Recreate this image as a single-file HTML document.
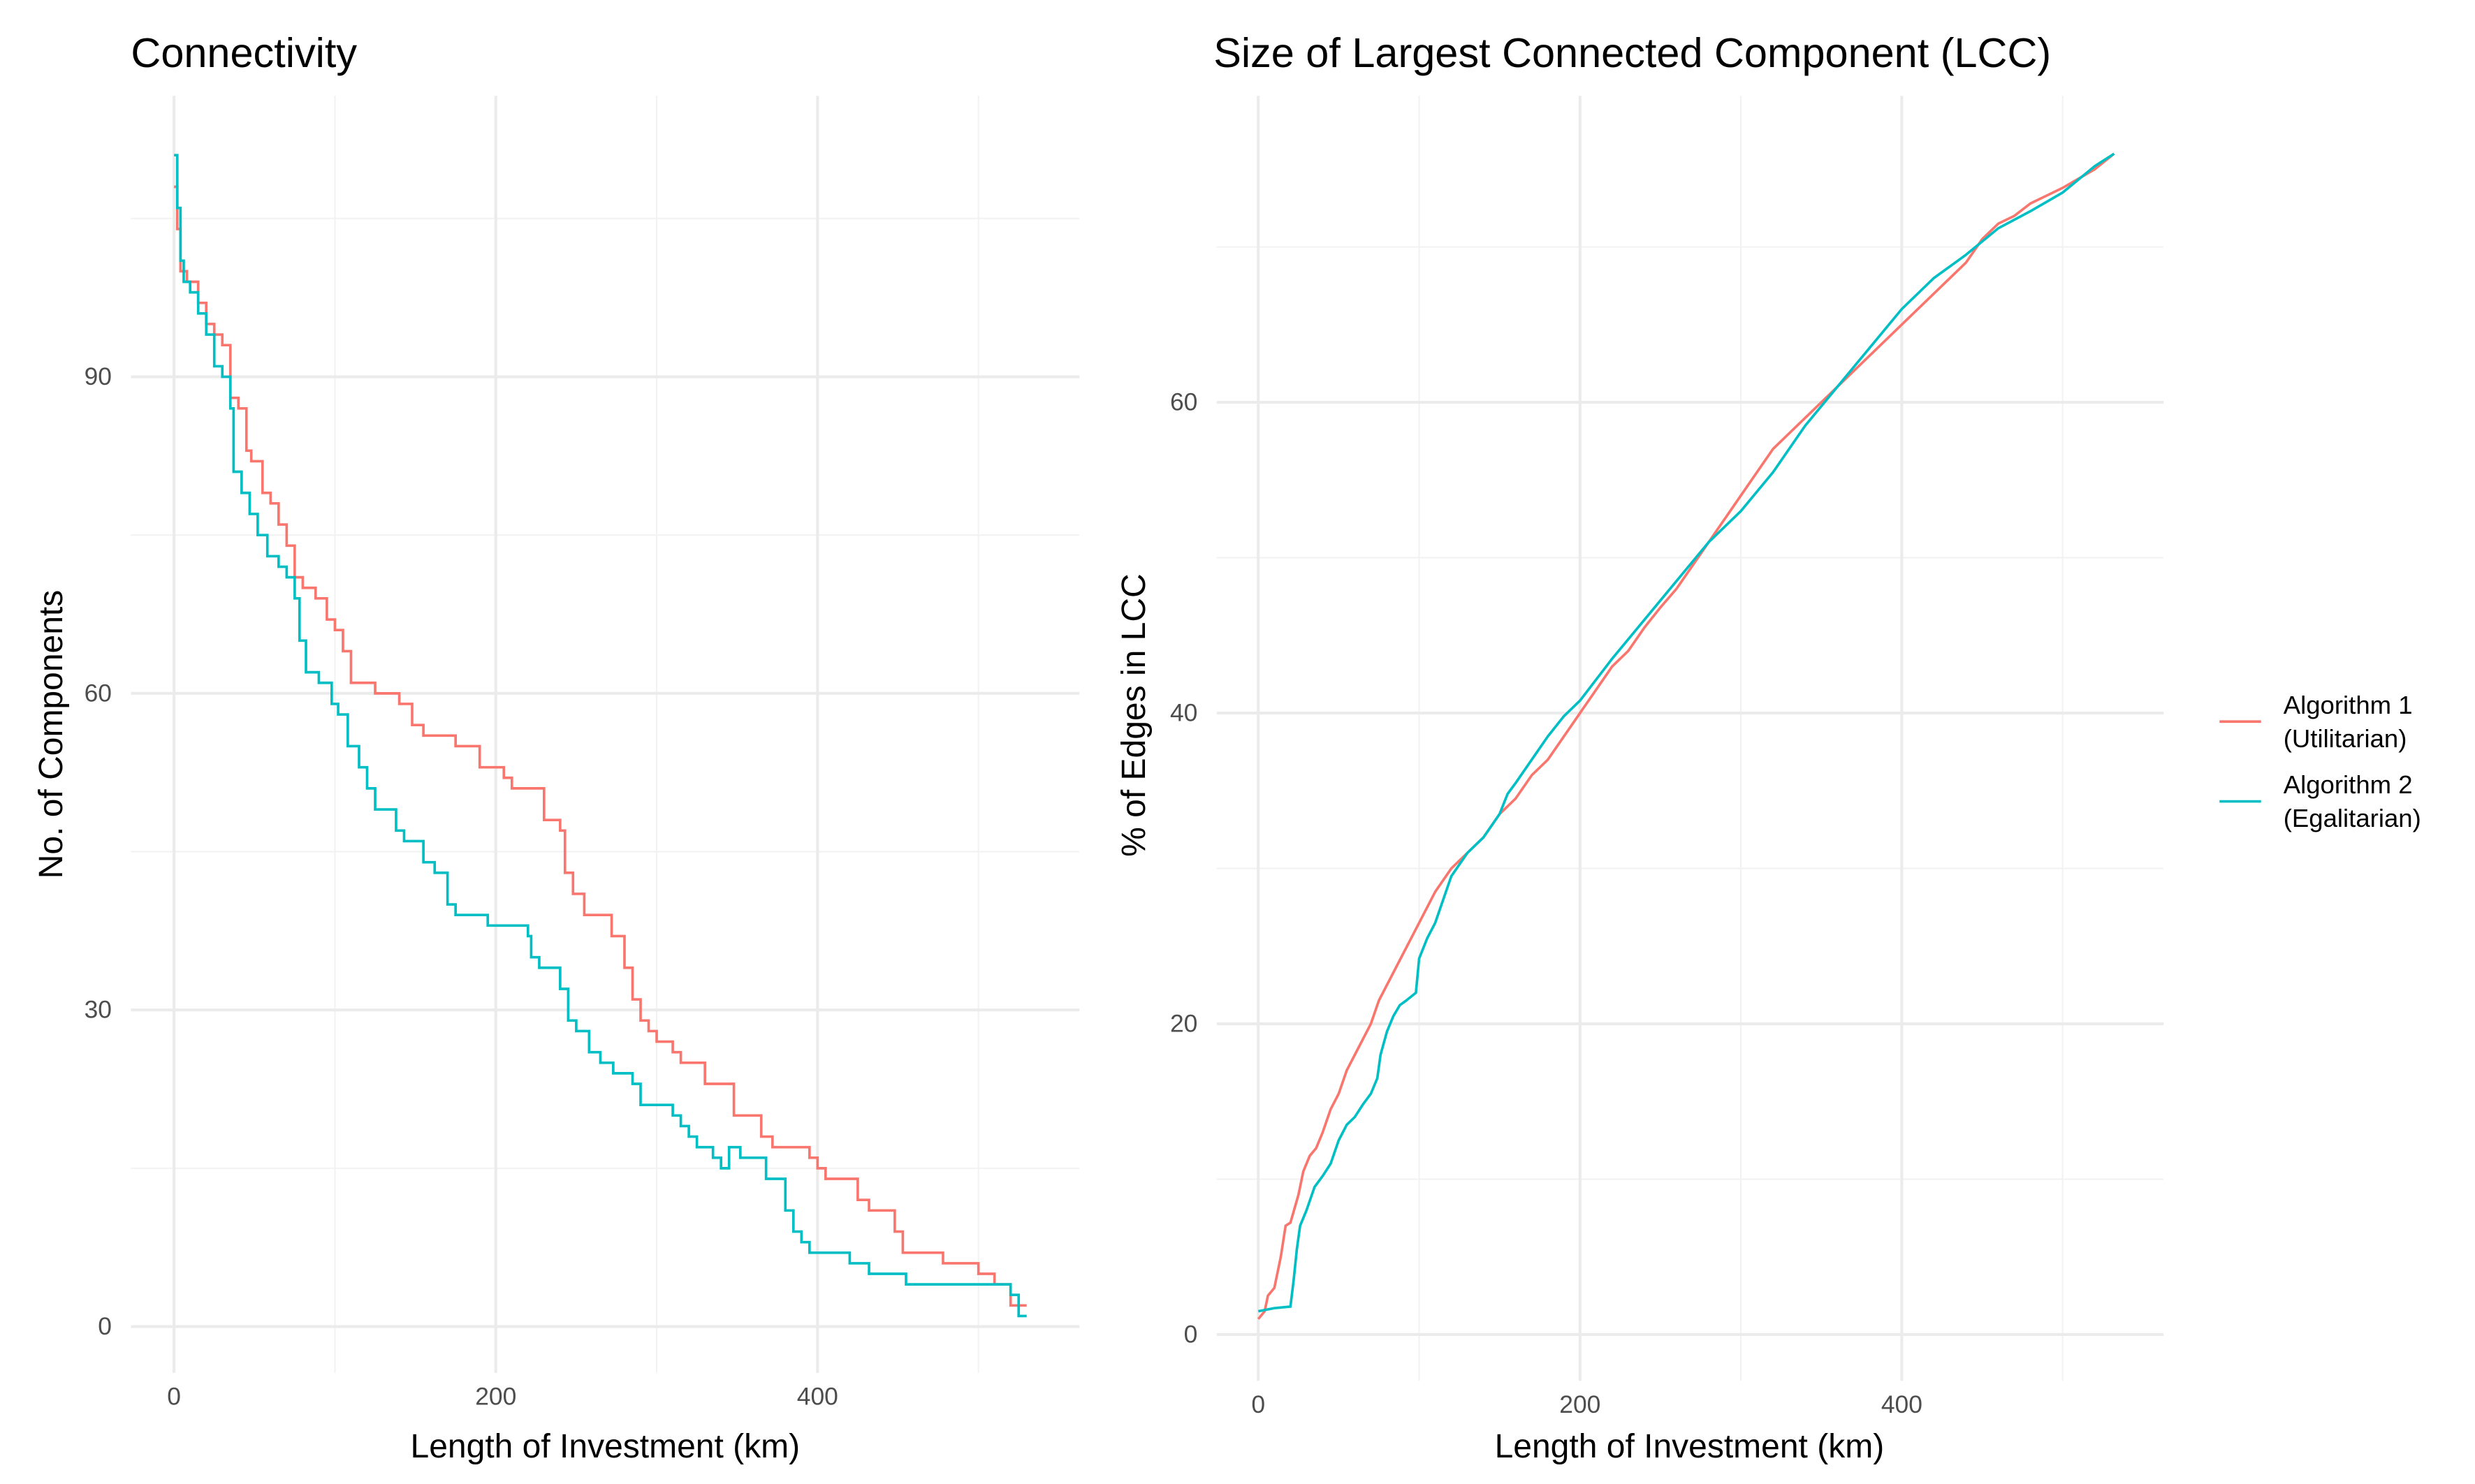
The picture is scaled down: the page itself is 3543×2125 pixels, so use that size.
<!DOCTYPE html>
<html><head><meta charset="utf-8"><style>
html,body{margin:0;padding:0;background:#fff;}
svg{display:block;font-family:"Liberation Sans",Arial,sans-serif;}
</style></head><body>
<svg id="chart" width="3543" height="2125" viewBox="0 0 1550 929.6" xmlns="http://www.w3.org/2000/svg">
<rect width="1550" height="930" fill="#fff"/>
<g id="p1"></g>
<g id="p2"></g>
<text x="82" y="42" font-size="26" fill="#000">Connectivity</text>
<text x="760" y="42" font-size="26" fill="#000">Size of Largest Connected Component (LCC)</text>
<text x="379" y="913" font-size="21" text-anchor="middle">Length of Investment (km)</text>
<text x="1058" y="913" font-size="21" text-anchor="middle">Length of Investment (km)</text>
<text transform="translate(39,460) rotate(-90)" font-size="21" text-anchor="middle">No. of Components</text>
<text transform="translate(717,448) rotate(-90)" font-size="21" text-anchor="middle">% of Edges in LCC</text>
<g>
<line x1="1390" x2="1416" y1="452" y2="452" stroke="#F8766D" stroke-width="1.6"/>
<text x="1430" y="447" font-size="16">Algorithm 1</text>
<text x="1430" y="468" font-size="16">(Utilitarian)</text>
<line x1="1390" x2="1416" y1="502" y2="502" stroke="#00BFC4" stroke-width="1.6"/>
<text x="1430" y="497" font-size="16">Algorithm 2</text>
<text x="1430" y="518" font-size="16">(Egalitarian)</text>
</g>
</svg>
<script>
const leftXTicks=[0,200,400];
const leftYTicks=[0,30,60,90];
const rightXTicks=[0,200,400];
const rightYTicks=[0,20,40,60];
const redCompX=[0,2,4,8,15,20,25,30,35,40,45,48,55,60,65,70,75,80,88,95,100,105,110,125,140,148,155,175,190,205,210,230,240,243,248,255,272,280,285,290,295,300,310,315,330,348,365,372,395,400,405,425,432,448,453,478,500,510,520,530];
const redCompY=[108,104,100,99,97,95,94,93,88,87,83,82,79,78,76,74,71,70,69,67,66,64,61,60,59,57,56,55,53,52,51,48,47,43,41,39,37,34,31,29,28,27,26,25,23,20,18,17,16,15,14,12,11,9,7,6,5,4,2,2];
const cyanCompX=[0,2,4,6,10,15,20,25,30,35,37,42,47,52,58,65,70,75,78,82,90,98,102,108,115,120,125,138,143,155,162,170,175,195,220,222,227,240,245,250,258,265,273,285,290,310,315,320,325,335,340,345,352,368,380,385,390,395,420,432,455,520,525,530];
const cyanCompY=[111,106,101,99,98,96,94,91,90,87,81,79,77,75,73,72,71,69,65,62,61,59,58,55,53,51,49,47,46,44,43,40,39,38,37,35,34,32,29,28,26,25,24,23,21,20,19,18,17,16,15,17,16,14,11,9,8,7,6,5,4,3,1,1];
const redLccX=[0,4,6,10,14,17,20,25,28,32,36,40,45,50,55,60,65,70,75,80,85,90,95,100,110,120,130,140,150,160,170,180,190,200,210,220,230,240,250,260,270,280,290,300,310,320,330,340,350,360,380,400,420,440,450,460,470,480,500,520,532];
const redLccY=[1,1.5,2.5,3,5,7,7.2,9,10.5,11.5,12,13,14.5,15.5,17,18,19,20,21.5,22.5,23.5,24.5,25.5,26.5,28.5,30,31,32,33.5,34.5,36,37,38.5,40,41.5,43,44,45.5,46.8,48,49.5,51,52.5,54,55.5,57,58,59,60,61,63,65,67,69,70.5,71.5,72,72.8,73.8,75,76];
const cyanLccX=[0,10,20,22,24,26,30,35,40,45,50,55,60,65,70,74,76,80,84,88,92,98,100,105,110,115,120,130,140,150,155,160,170,180,190,200,220,240,260,280,300,320,340,360,380,400,420,440,460,480,500,520,532];
const cyanLccY=[1.5,1.7,1.8,3.5,5.5,7,8,9.5,10.2,11,12.5,13.5,14,14.8,15.5,16.5,18,19.5,20.5,21.2,21.5,22,24.2,25.5,26.5,28,29.5,31,32,33.5,34.8,35.5,37,38.5,39.8,40.8,43.5,46,48.5,51,53,55.5,58.5,61,63.5,66,68,69.5,71.2,72.3,73.5,75.2,76];

const NS="http://www.w3.org/2000/svg";
function mk(parent,tag,attrs){const e=document.createElementNS(NS,tag);for(const k in attrs)e.setAttribute(k,attrs[k]);parent.appendChild(e);return e;}
function panel(g,px0,px1,py0,py1,sx,sy,xt,yt,xminor,yminor,series,name,step){
  for(const v of xminor){const l=mk(g,'line',{x1:sx(v),x2:sx(v),y1:py0,y2:py1,stroke:'#F2F2F2','stroke-width':0.9});
    
    }
  for(const v of yminor){const l=mk(g,'line',{x1:px0,x2:px1,y1:sy(v),y2:sy(v),stroke:'#F2F2F2','stroke-width':0.9});
    
    }
  for(const v of xt){const l=mk(g,'line',{x1:sx(v),x2:sx(v),y1:py0,y2:py1,stroke:'#EBEBEB','stroke-width':1.8});
    
    
    const t=mk(g,'text',{x:sx(v),y:py1+20,'font-size':15.5,fill:'#4D4D4D','text-anchor':'middle'});t.textContent=v;
    
    }
  for(const v of yt){const l=mk(g,'line',{x1:px0,x2:px1,y1:sy(v),y2:sy(v),stroke:'#EBEBEB','stroke-width':1.8});
    
    
    const t=mk(g,'text',{x:px0-12,y:sy(v)+5,'font-size':15.5,fill:'#4D4D4D','text-anchor':'end'});t.textContent=v;
    
    }
  for(const s of series){
    let pts=[];
    for(let i=0;i<s.x.length;i++){
      if(step&&i>0)pts.push(sx(s.x[i])+','+sy(s.y[i-1]));
      pts.push(sx(s.x[i])+','+sy(s.y[i]));
    }
    const p=mk(g,'polyline',{points:pts.join(' '),fill:'none',stroke:s.c,'stroke-width':1.6});
    
    
  }
}
const lx=v=>109+v*(512-109)/400, ly=v=>831-v*(831-236)/90;
panel(document.getElementById('p1'),82,676,60,860,lx,ly,leftXTicks,leftYTicks,[100,300,500],[15,45,75,105],
 [{x:redCompX,y:redCompY,c:'#F8766D',n:'algorithm-1-components-line'},{x:cyanCompX,y:cyanCompY,c:'#00BFC4',n:'algorithm-2-components-line'}],'left',true);
const rx=v=>788+v*(1191-788)/400, ry=v=>836-v*(836-252)/60;
panel(document.getElementById('p2'),762,1355,60,865,rx,ry,rightXTicks,rightYTicks,[100,300,500],[10,30,50,70],
 [{x:redLccX,y:redLccY,c:'#F8766D',n:'algorithm-1-lcc-line'},{x:cyanLccX,y:cyanLccY,c:'#00BFC4',n:'algorithm-2-lcc-line'}],'right',false);
</script>
</body></html>
